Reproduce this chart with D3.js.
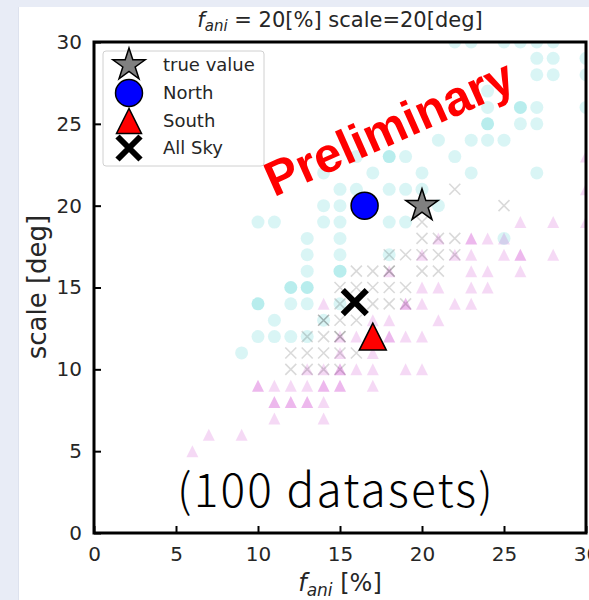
<!DOCTYPE html>
<html><head><meta charset="utf-8">
<script src="https://cdn.jsdelivr.net/npm/d3@7"></script>
<style>body{margin:0;background:#fff}svg{display:block}</style>
</head><body>
<script>
// ---- data (x = f_ani [%], y = scale [deg], n = number of datasets at that cell) ----
const northPts = [
 [22,30,1],[23,30,1],[25,30,1],[26,30,1],[27,30,1],[28,30,1],
 [27,29,1],[28,29,1],[30,29,1],
 [27,28,1],[28,28,1],[30,28,1],
 [24,27,1],
 [24,26,1],[26,26,2],[27,26,1],[30,26,1],
 [24,25,2],[26,25,1],[27,25,1],
 [21,24,1],[23,24,1],[24,24,1],[25,24,1],
 [16,23,1],[18,23,2],[19,23,1],[22,23,1],
 [14,22,1],[17,22,1],[20,22,1],[23,22,1],[27,22,1],
 [15,21,1],[16,21,1],[18,21,1],[19,21,1],[20,21,1],
 [14,20,1],[15,20,1],[21,20,1],
 [10,19,1],[11,19,1],[14,19,1],[15,19,1],[18,19,1],[19,19,1],
 [13,18,1],[15,18,1],[25,18,1],
 [13,17,1],[15,17,1],[18,17,1],
 [13,16,1],[15,16,2],
 [12,15,2],[13,15,2],
 [10,14,2],[12,14,1],[13,14,1],[15,14,1],
 [11,13,1],[14,13,1],
 [10,12,1],[11,12,1],[12,12,1],[13,12,1],
 [9,11,1]
];
const southPts = [
 [26,19,1],[28,19,1],[30,19,1],[30,21,1],[30,23,1],
 [21,18,1],[23,18,2],[24,18,1],[25,18,1],
 [20,17,1],[22,17,1],[23,17,1],[25,17,1],[26,17,2],[28,17,1],
 [18,16,1],[23,16,1],[24,16,1],[26,16,1],
 [20,15,1],[21,15,1],[23,15,1],[24,15,1],
 [14,14,1],[19,14,2],[20,14,1],[22,14,1],[23,14,1],
 [17,13,1],[18,13,1],[21,13,1],
 [15,12,1],[16,12,1],[18,12,2],[19,12,1],[20,12,1],
 [15,11,1],[17,11,1],
 [13,10,1],[14,10,1],[15,10,2],[16,10,1],[17,10,1],[19,10,1],[20,10,1],
 [10,9,2],[11,9,1],[12,9,1],[13,9,1],[14,9,2],[15,9,2],[17,9,1],
 [11,8,2],[12,8,2],[13,8,2],[14,8,1],
 [11,7,1],[14,7,1],
 [7,6,1],[9,6,1],
 [6,5,1]
];
const allSkyPts = [
 [22,21,1],[25,20,1],[20,19,1],
 [20,18,1],[21,18,1],[22,18,1],
 [18,17,1],[19,17,1],[20,17,1],[21,17,1],[22,17,1],
 [16,16,1],[17,16,1],[18,16,2],[20,16,1],[21,16,1],
 [15,15,1],[16,15,1],[17,15,1],[18,15,1],[19,15,1],
 [15,14,1],[17,14,1],[18,14,1],[19,14,1],
 [14,13,2],[15,13,1],[16,13,1],
 [13,12,1],[14,12,1],[15,12,2],
 [12,11,1],[13,11,1],[14,11,1],[15,11,1],[16,11,1],
 [12,10,1],[13,10,1],[14,10,1],[15,10,1]
];
const trueValue = [20, 20];
const northMean = [16.5, 20];
const southMean = [17, 12];
const allSkyMean = [15.9, 14.1];
const xTicks = [0,5,10,15,20,25,30];
const yTicks = [0,5,10,15,20,25,30];
const legendLabels = ["true value","North","South","All Sky"];

// ---- layout ----
const W = 589, H = 600;
const L = 94, R = 586, T = 42, B = 533;
const svg = d3.select("body").append("svg").attr("width", W).attr("height", H);

// slide background bands
svg.append("rect").attr("x",0).attr("y",0).attr("width",W).attr("height",7).attr("fill","#e8ecf6");
svg.append("rect").attr("x",0).attr("y",0).attr("width",18).attr("height",H).attr("fill","#e8ecf6");
svg.append("rect").attr("x",18).attr("y",7).attr("width",1).attr("height",H-7).attr("fill","#dde2ee");

const x = d3.scaleLinear().domain([0,30]).range([L,R]);
const y = d3.scaleLinear().domain([0,30]).range([B,T]);

svg.append("clipPath").attr("id","clip").append("rect")
  .attr("x",L).attr("y",T).attr("width",R-L).attr("height",B-T);
const g = svg.append("g").attr("clip-path","url(#clip)");

const alpha = 0.15;
const op = n => 1 - Math.pow(1 - alpha, n);

// North circles
g.selectAll(".n").data(northPts).join("circle")
  .attr("cx", d => x(d[0])).attr("cy", d => y(d[1])).attr("r", 6.5)
  .attr("fill", "#00bfbf").attr("fill-opacity", d => op(d[2]));

// South triangles
const tri = s => `M0,${-s}L${-s},${s}L${s},${s}Z`;
g.selectAll(".s").data(southPts).join("path")
  .attr("transform", d => `translate(${x(d[0])},${y(d[1])})`)
  .attr("d", tri(6))
  .attr("fill", "#bf00bf").attr("fill-opacity", d => op(d[2]));

// All-sky crosses
const cross = s => `M${-s},${-s}L${s},${s}M${-s},${s}L${s},${-s}`;
g.selectAll(".a").data(allSkyPts).join("path")
  .attr("transform", d => `translate(${x(d[0])},${y(d[1])})`)
  .attr("d", cross(5.5))
  .attr("fill","none").attr("stroke", "#000").attr("stroke-width", 1.6)
  .attr("stroke-opacity", d => op(d[2]));

// spines
svg.append("rect").attr("x",L).attr("y",T).attr("width",R-L).attr("height",B-T)
  .attr("fill","none").attr("stroke","#000").attr("stroke-width",3);

// axes
const fontTick = "DejaVu Sans, sans-serif";
const xAxis = svg.append("g").attr("transform",`translate(0,${B})`)
  .call(d3.axisBottom(x).tickValues(xTicks).tickFormat(d3.format("d")).tickSizeInner(-7).tickSizeOuter(0).tickPadding(14));
const yAxis = svg.append("g").attr("transform",`translate(${L},0)`)
  .call(d3.axisLeft(y).tickValues(yTicks).tickFormat(d3.format("d")).tickSizeInner(-7).tickSizeOuter(0).tickPadding(12));
[xAxis,yAxis].forEach(a => {
  a.select(".domain").remove();
  a.selectAll(".tick line").attr("stroke","#000").attr("stroke-width",2);
  a.selectAll(".tick text").attr("font-family",fontTick).attr("font-size",20).attr("fill","#262626");
});

// markers
function star(R){ let p=[]; for(let i=0;i<10;i++){const r=i%2?R*0.382:R; const a=-Math.PI/2+i*Math.PI/5; p.push([r*Math.cos(a), r*Math.sin(a)]);} return "M"+p.map(q=>q.join(",")).join("L")+"Z"; }
function drawStar(sel, cx, cy, R){ sel.append("path").attr("transform",`translate(${cx},${cy})`).attr("d",star(R)).attr("fill","#808080").attr("stroke","#000").attr("stroke-width",1.5).attr("stroke-linejoin","miter"); }
function drawCircle(sel, cx, cy, r){ sel.append("circle").attr("cx",cx).attr("cy",cy).attr("r",r).attr("fill","#0000ff").attr("stroke","#000").attr("stroke-width",1.5); }
function drawTri(sel, cx, cy, s){ sel.append("path").attr("transform",`translate(${cx},${cy})`).attr("d",tri(s)).attr("fill","#ff0000").attr("stroke","#000").attr("stroke-width",1.5); }
function drawX(sel, cx, cy, s){ sel.append("path").attr("transform",`translate(${cx},${cy})`).attr("d",cross(s)).attr("fill","none").attr("stroke","#000").attr("stroke-width",6); }

drawStar(svg, x(trueValue[0]), y(trueValue[1]), 17);
drawCircle(svg, x(northMean[0]), y(northMean[1]), 13.5);
drawTri(svg, x(southMean[0]), y(southMean[1]), 13.5);
drawX(svg, x(allSkyMean[0]), y(allSkyMean[1]), 12);

// Preliminary stamp
svg.append("text").attr("transform","translate(396,143) rotate(-24)")
  .attr("text-anchor","middle").attr("font-family","Liberation Sans, Arial, sans-serif")
  .attr("font-weight","bold").attr("font-size",49).attr("fill","#ff0000").text("Preliminary");

// (100 datasets)
svg.append("text").attr("x",336).attr("y",507).attr("text-anchor","middle")
  .attr("font-family","Noto Sans CJK JP, sans-serif").attr("font-weight",300)
  .attr("font-size",46).attr("letter-spacing",2.2).attr("fill","#000").text("(100 datasets)");

// legend
const lg = svg.append("g");
lg.append("rect").attr("x",103).attr("y",51).attr("width",161).attr("height",115).attr("rx",3)
  .attr("fill","#fff").attr("fill-opacity",0.85).attr("stroke","#d0d0d0").attr("stroke-width",1);
const ly = [65, 93, 121, 148];
drawStar(lg, 129, ly[0], 17);
drawCircle(lg, 129, ly[1], 13.5);
drawTri(lg, 129, ly[2], 12.5);
drawX(lg, 129, ly[3], 11.5);
lg.selectAll(".lt").data(legendLabels).join("text")
  .attr("x",163).attr("y",(d,i)=>ly[i]+6).attr("font-family",fontTick).attr("font-size",18)
  .attr("fill","#262626").text(d=>d);

// title
const title = svg.append("text").attr("x",340).attr("y",27).attr("text-anchor","middle")
  .attr("font-family",fontTick).attr("font-size",21).attr("fill","#262626");
title.append("tspan").attr("font-style","italic").text("f");
title.append("tspan").attr("font-style","italic").attr("font-size",15).attr("dy",4).text("ani");
title.append("tspan").attr("dy",-4).text(" = 20[%] scale=20[deg]");

// axis labels
const xl = svg.append("text").attr("x",340).attr("y",591).attr("text-anchor","middle")
  .attr("font-family",fontTick).attr("font-size",24).attr("fill","#262626");
xl.append("tspan").attr("font-style","italic").text("f");
xl.append("tspan").attr("font-style","italic").attr("font-size",17).attr("dy",5).text("ani");
xl.append("tspan").attr("dy",-5).text(" [%]");

svg.append("text").attr("transform","translate(46,287) rotate(-90)").attr("text-anchor","middle")
  .attr("font-family",fontTick).attr("font-size",26).attr("fill","#262626").text("scale [deg]");
</script>
</body></html>
